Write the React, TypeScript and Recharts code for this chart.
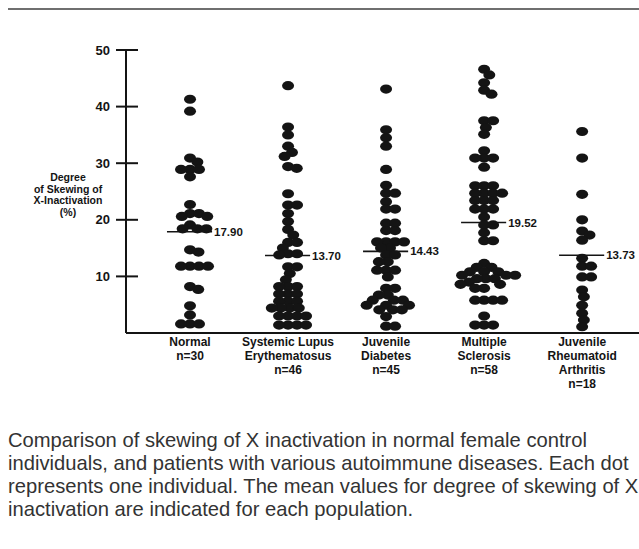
import React from 'react';
import { ScatterChart, Scatter, XAxis, YAxis, ReferenceLine } from 'recharts';

// category labels (one entry per line of the axis label)
const categoryLabels = [
  ['Normal', 'n=30'],
  ['Systemic Lupus', 'Erythematosus', 'n=46'],
  ['Juvenile', 'Diabetes', 'n=45'],
  ['Multiple', 'Sclerosis', 'n=58'],
  ['Juvenile', 'Rheumatoid', 'Arthritis', 'n=18'],
];

// degree of skewing (%) for each individual
const normalValues = [41.3, 39.2, 30.9, 30.2, 28.9, 28.9, 28.9, 27.6, 22.7, 21.1, 21.1, 20.6, 20.6, 19.1, 18.4, 18.4, 18.4, 14.7, 14.3, 11.8, 11.8, 11.8, 11.8, 8.2, 7.7, 4.8, 3.2, 1.6, 1.6, 1.6];
const sleValues = [43.7, 36.4, 35.0, 33.0, 31.9, 31.2, 29.4, 29.1, 24.6, 22.6, 22.6, 21.1, 19.7, 18.3, 17.3, 16.0, 16.0, 15.0, 14.0, 14.0, 13.8, 11.7, 11.7, 10.5, 9.4, 8.2, 8.2, 8.2, 6.9, 6.9, 6.9, 5.6, 5.6, 5.6, 4.4, 4.4, 4.4, 4.4, 3.0, 3.0, 3.0, 3.0, 1.4, 1.4, 1.4, 1.4];
const jdValues = [43.1, 35.9, 34.5, 33.0, 28.9, 26.1, 24.7, 24.7, 23.2, 21.9, 21.9, 19.4, 19.4, 18.1, 18.1, 16.1, 16.1, 16.1, 16.1, 15.0, 15.0, 13.8, 13.8, 12.6, 12.6, 11.1, 11.1, 11.1, 9.9, 7.9, 7.9, 6.7, 6.7, 5.8, 5.8, 5.8, 4.9, 4.9, 4.9, 4.1, 4.1, 4.1, 2.9, 1.2, 1.2];
const msValues = [46.6, 45.6, 44.2, 42.9, 42.2, 37.5, 37.5, 36.3, 35.1, 32.2, 30.9, 30.9, 30.9, 29.3, 26.0, 26.0, 26.0, 24.7, 24.7, 24.7, 24.7, 23.4, 23.4, 23.4, 21.9, 21.9, 21.9, 20.5, 19.1, 19.1, 17.7, 16.3, 16.3, 12.3, 11.6, 11.6, 10.8, 10.8, 10.8, 10.2, 10.2, 10.2, 9.6, 9.6, 9.6, 9.0, 8.6, 8.6, 7.9, 7.9, 5.8, 5.8, 5.8, 5.8, 3.0, 1.4, 1.4, 1.4];
const jraValues = [35.6, 30.9, 24.5, 20.0, 18.0, 17.3, 16.4, 13.2, 11.8, 11.8, 9.9, 9.9, 7.6, 6.4, 4.9, 3.5, 2.3, 1.1];

const groupValues = [normalValues, sleValues, jdValues, msValues, jraValues];
const means = [17.9, 13.7, 14.43, 19.52, 13.73];

const yTicks = [10, 20, 30, 40, 50];

const CHART_W = 639;
const CHART_H = 400;
const PLOT_LEFT = 126;
const PLOT_TOP = 50;
const PLOT_BOTTOM = 333;
const X_DOMAIN: [number, number] = [-0.653, 4.58];
const Y_MAX = 50;
const FONT = '"Liberation Sans", Arial, Helvetica, sans-serif';
const INK = '#141414';

// simple beeswarm: each dot goes to the free spot nearest the group centre
const SWARM_D = 9;
const SWARM_K = 1.3;

function swarm(values: number[], index: number) {
  const pxPerY = (PLOT_BOTTOM - PLOT_TOP) / Y_MAX;
  const pxPerX = (CHART_W - PLOT_LEFT) / (X_DOMAIN[1] - X_DOMAIN[0]);
  const placed: { dx: number; py: number }[] = [];
  return values.map((v) => {
    const py = v * pxPerY;
    const cands = [0];
    placed.forEach((p) => {
      const dy = (py - p.py) * SWARM_K;
      if (Math.abs(dy) < SWARM_D) {
        const w = Math.sqrt(SWARM_D * SWARM_D - dy * dy);
        cands.push(p.dx + w, p.dx - w);
      }
    });
    const ok = cands.filter((c) =>
      placed.every((p) => {
        const dy = (py - p.py) * SWARM_K;
        const dx = c - p.dx;
        return dx * dx + dy * dy >= SWARM_D * SWARM_D - 0.01;
      })
    );
    ok.sort((a, b) => Math.abs(a) - Math.abs(b) || b - a);
    const dx = ok[0];
    placed.push({ dx, py });
    return { x: index + dx / pxPerX, y: v };
  });
}

const Dot = (props: any) => <ellipse cx={props.cx} cy={props.cy} rx={6} ry={4.6} fill={INK} />;

const YTick = (props: any) => {
  const { x, y, payload } = props;
  return (
    <g>
      <line x1={x - 10} x2={x + 12} y1={y} y2={y} stroke={INK} strokeWidth={2} />
      <text x={x - 16} y={y} dy={4.5} textAnchor="end" fontFamily={FONT} fontWeight={700} fontSize={13} fill={INK}>
        {payload.value}
      </text>
    </g>
  );
};

const XTick = (props: any) => {
  const { x, payload } = props;
  const lines = categoryLabels[payload.value] || [];
  return (
    <text x={x} y={PLOT_BOTTOM + 13} textAnchor="middle" fontFamily={FONT} fontWeight={700} fontSize={12} fill={INK}>
      {lines.map((l, i) => (
        <tspan key={i} x={x} dy={i === 0 ? 0 : 14}>
          {l}
        </tspan>
      ))}
    </text>
  );
};

const YLabel = () => (
  <text x={68} y={181} textAnchor="middle" fontFamily={FONT} fontWeight={700} fontSize={10.5} fill={INK}>
    <tspan x={68} dy={0}>Degree</tspan>
    <tspan x={68} dy={11.7}>of Skewing of</tspan>
    <tspan x={68} dy={11.7}>X-Inactivation</tspan>
    <tspan x={68} dy={11.7}>(%)</tspan>
  </text>
);

export default function App() {
  return (
    <div style={{ position: 'absolute', left: 0, top: 0, width: 639, height: 549, background: '#fff', overflow: 'hidden' }}>
      <div style={{ position: 'absolute', left: 8, top: 8, width: 631, height: 0, borderTop: '2px solid #6f6f6f' }} />
      <ScatterChart width={CHART_W} height={CHART_H} margin={{ top: PLOT_TOP, right: 0, bottom: 0, left: 0 }}>
        <XAxis
          type="number"
          dataKey="x"
          domain={X_DOMAIN}
          ticks={[0, 1, 2, 3, 4]}
          tick={<XTick />}
          tickLine={false}
          tickSize={0}
          height={CHART_H - PLOT_BOTTOM}
          axisLine={{ stroke: INK, strokeWidth: 2 }}
          allowDataOverflow
        />
        <YAxis
          type="number"
          dataKey="y"
          domain={[0, Y_MAX]}
          ticks={yTicks}
          tick={<YTick />}
          tickLine={false}
          tickSize={0}
          tickMargin={0}
          width={PLOT_LEFT}
          axisLine={{ stroke: INK, strokeWidth: 2 }}
          label={<YLabel />}
        />
        {groupValues.map((vals, i) => (
          <Scatter key={i} data={swarm(vals, i)} shape={<Dot />} isAnimationActive={false} />
        ))}
        {means.map((m, i) => (
          <ReferenceLine
            key={'m' + i}
            segment={[{ x: i - 0.235, y: m }, { x: i + 0.225, y: m }]}
            stroke={INK}
            strokeWidth={1.6}
            label={{ value: m.toFixed(2), position: 'right', offset: 2, fill: INK, fontSize: 11.5, fontWeight: 700, fontFamily: FONT }}
          />
        ))}
      </ScatterChart>
      <div
        style={{
          position: 'absolute',
          left: 8,
          top: 429,
          width: 680,
          fontFamily: FONT,
          fontSize: 20.2,
          lineHeight: '23px',
          color: '#333',
          whiteSpace: 'nowrap',
        }}
      >
        <div>Comparison of skewing of X inactivation in normal female control</div>
        <div>individuals, and patients with various autoimmune diseases. Each dot</div>
        <div>represents one individual. The mean values for degree of skewing of X</div>
        <div>inactivation are indicated for each population.</div>
      </div>
    </div>
  );
}
